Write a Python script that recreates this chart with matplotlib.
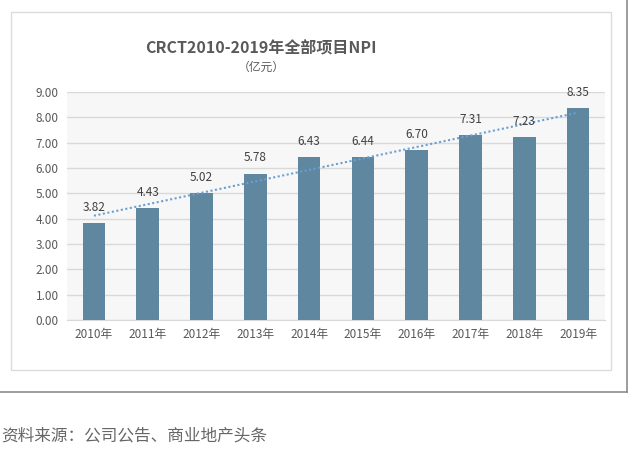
import matplotlib
matplotlib.use("Agg")
import matplotlib.pyplot as plt
import numpy as np
from matplotlib.patches import Rectangle

plt.rcParams['font.family'] = ['Noto Sans CJK SC', 'DejaVu Sans']

years = ["2010年", "2011年", "2012年", "2013年", "2014年", "2015年", "2016年", "2017年", "2018年", "2019年"]
npi = [3.82, 4.43, 5.02, 5.78, 6.43, 6.44, 6.70, 7.31, 7.23, 8.35]
yticks = [0, 1, 2, 3, 4, 5, 6, 7, 8, 9]

W, H = 640, 463
fig = plt.figure(figsize=(6.4, 4.63), dpi=100)
fig.patch.set_facecolor("white")

def fx(px): return px / W
def fy(py): return 1 - py / H

# outer frame (right & bottom edges visible)
fig.add_artist(plt.Line2D([fx(627), fx(627)], [fy(0), fy(392)], color="#8c8c8c", lw=1.2,
                          transform=fig.transFigure, zorder=-2))
fig.add_artist(plt.Line2D([fx(0), fx(627)], [fy(392), fy(392)], color="#8c8c8c", lw=1.2,
                          transform=fig.transFigure, zorder=-2))
# inner card
fig.add_artist(Rectangle((fx(11), fy(370)), fx(611) - fx(11), fy(12) - fy(370), transform=fig.transFigure,
                         facecolor="white", edgecolor="#dcdcdc", lw=1, zorder=-1))

ax = fig.add_axes([fx(67), fy(320), fx(605) - fx(67), fy(92) - fy(320)])
ax.set_zorder(1)
ax.set_facecolor("#f7f7f7")
x = np.arange(len(years))
ax.bar(x, npi, width=0.42, color="#5f87a0", zorder=3)
for xi, v in zip(x, npi):
    ax.text(xi, v + 0.36, f"{v:.2f}", ha="center", va="bottom", fontsize=8.5, color="#404040", zorder=5)

coef = np.polyfit(x, npi, 1)
ax.plot(x, np.polyval(coef, x), linestyle=(0, (1, 1.2)), color="#6a9fd4", lw=1.5, zorder=4)

ax.set_ylim(0, 9)
ax.set_xlim(-0.5, len(years) - 0.5)
ax.set_yticks(yticks)
ax.set_yticklabels([f"{t:.2f}" for t in yticks], fontsize=8.5, color="#595959")
ax.set_xticks(x)
ax.set_xticklabels(years, fontsize=8.5, color="#595959")
ax.tick_params(length=0, pad=6)
ax.grid(axis="y", color="#d9d9d9", lw=1, zorder=0)
for s in ["top", "right", "left"]:
    ax.spines[s].set_visible(False)
ax.spines["bottom"].set_color("#d9d9d9")

fig.text(fx(261), fy(48), "CRCT2010-2019年全部项目NPI", ha="center", va="center", fontsize=11.5,
         fontweight="bold", color="#595959")
fig.text(fx(261), fy(67), "（亿元）", ha="center", va="center", fontsize=8.5, color="#595959")
fig.text(fx(1), fy(436), "资料来源：公司公告、商业地产头条", ha="left", va="center", fontsize=12, color="#666666")

fig.savefig("out.png", dpi=100)
